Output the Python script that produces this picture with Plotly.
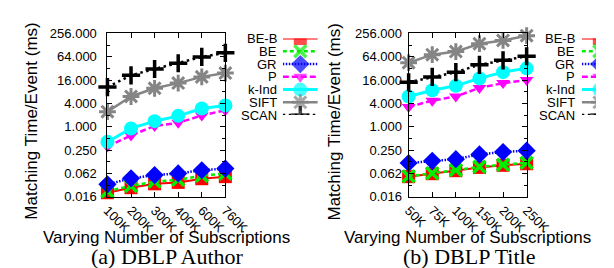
import math
import plotly.graph_objects as go

W, H = 614, 268

series_names = ["BE-B", "BE", "GR", "P", "k-Ind", "SIFT", "SCAN"]

cats_a = ["100K", "200K", "300K", "400K", "600K", "760K"]
a_beb = [0.020, 0.027, 0.034, 0.037, 0.046, 0.052]
a_be = [0.022, 0.030, 0.039, 0.043, 0.055, 0.063]
a_gr = [0.033, 0.047, 0.057, 0.063, 0.076, 0.084]
a_p = [0.31, 0.60, 1.05, 1.27, 1.96, 2.69]
a_kind = [0.41, 0.91, 1.40, 1.92, 2.96, 3.57]
a_sift = [2.46, 6.06, 9.85, 13.4, 19.4, 24.3]
a_scan = [10.6, 21.3, 31.0, 43.6, 63.5, 81.0]

cats_b = ["50K", "75K", "100K", "150K", "200K", "250K"]
b_beb = [0.052, 0.062, 0.074, 0.090, 0.102, 0.112]
b_be = [0.053, 0.064, 0.077, 0.093, 0.106, 0.118]
b_gr = [0.117, 0.133, 0.147, 0.195, 0.225, 0.243]
b_p = [3.26, 4.73, 6.06, 10.1, 13.4, 16.1]
b_kind = [6.06, 8.8, 11.5, 17.7, 25.7, 32.2]
b_sift = [45.0, 72.5, 87.0, 139.0, 169.0, 224.0]
b_scan = [14.1, 19.4, 25.7, 39.7, 51.7, 66.0]

y_tickvals = [0.015625, 0.0625, 0.25, 1, 4, 16, 64, 256]
y_ticktext = ["0.016", "0.062", "0.250", "1.000", "4.000", "16.000", "64.000", "256.000"]
y_minorvals = [0.03125, 0.125, 0.5, 2, 8, 32, 128]

titles_x = "Varying Number of Subscriptions"
title_y = "Matching Time/Event (ms)"
captions = ["(a) DBLP Author", "(b) DBLP Title"]

styles = {
    "BE-B": dict(color="#ff0000", dash="solid", width=2, symbol="square", size=13, mlw=0),
    "BE": dict(color="#00ee00", dash="4px,3px", width=2.5, symbol="x-thin-open", size=12, mlw=3.5),
    "GR": dict(color="#0000ff", dash="1.5px,1.5px", width=2.5, symbol="diamond", size=14, mlw=0),
    "P": dict(color="#ff00ff", dash="6px,3px", width=2.5, symbol="triangle-down", size=12, mlw=0),
    "k-Ind": dict(color="#00ffff", dash="solid", width=3, symbol="circle", size=14, mlw=0),
    "SIFT": dict(color="#858585", dash="solid", width=2.5, symbol="asterisk-open", size=14, mlw=3),
    "SCAN": dict(color="#000000", dash="2.5px,3.5px", width=2.5, symbol="cross-thin-open", size=13, mlw=3.5),
}

data_a = [a_beb, a_be, a_gr, a_p, a_kind, a_sift, a_scan]
data_b = [b_beb, b_be, b_gr, b_p, b_kind, b_sift, b_scan]

fig = go.Figure()

def add_series(name, cats, vals, xa, ya):
    s = styles[name]
    fig.add_trace(go.Scatter(
        x=cats, y=vals, mode="lines+markers", name=name, showlegend=False,
        xaxis=xa, yaxis=ya, cliponaxis=False,
        line=dict(color=s["color"], dash=s["dash"], width=s["width"]),
        marker=dict(symbol=s["symbol"], size=s["size"], color=s["color"],
                    line=dict(color=s["color"], width=s["mlw"])),
    ))

for name, vals in zip(series_names, data_a):
    add_series(name, cats_a, vals, "x", "y")
for name, vals in zip(series_names, data_b):
    add_series(name, cats_b, vals, "x2", "y2")

# gnuplot-style key samples (line with marker in the middle), drawn on hidden legend axes
for i, name in enumerate(series_names):
    s = styles[name]
    for xa, ya in (("x3", "y3"), ("x4", "y4")):
        fig.add_trace(go.Scatter(
            x=[0, 0.5, 1], y=[i, i, i], mode="lines+markers", showlegend=False,
            xaxis=xa, yaxis=ya, cliponaxis=True, hoverinfo="skip",
            line=dict(color=s["color"], dash=s["dash"], width=s["width"]),
            marker=dict(symbol=s["symbol"], size=[0, s["size"], 0], color=s["color"],
                        line=dict(color=s["color"], width=s["mlw"])),
        ))

font_sans = "Liberation Sans, Arial, sans-serif"
font_serif = "Liberation Serif, Times New Roman, serif"

ydom = [1 - 192.7 / H, 1 - 19.5 / H]

def xaxis_cfg(dom):
    return dict(domain=dom, type="category", range=[0, 5], showline=True, linecolor="black",
                linewidth=1, mirror="allticks", ticks="inside", ticklen=5, tickcolor="black",
                tickangle=45, tickfont=dict(family=font_sans, size=13, color="black"),
                showgrid=False, zeroline=False, fixedrange=True)

def yaxis_cfg(anchor, standoff):
    return dict(domain=ydom, anchor=anchor, type="log",
                range=[math.log10(0.015625), math.log10(256)],
                tickmode="array", tickvals=y_tickvals, ticktext=y_ticktext,
                showline=True, linecolor="black", linewidth=1, mirror="allticks",
                ticks="inside", ticklen=5, tickcolor="black",
                ticklabelstandoff=standoff,
                minor=dict(tickmode="array", tickvals=y_minorvals, ticks="inside",
                           ticklen=3, tickcolor="black"),
                tickfont=dict(family=font_sans, size=13, color="black"),
                showgrid=False, zeroline=False, fixedrange=True)

leg_ydom = [1 - 106 / H, 1 - 25 / H]

fig.update_layout(
    width=W, height=H, margin=dict(l=0, r=0, t=0, b=0),
    paper_bgcolor="white", plot_bgcolor="white", showlegend=False,
    xaxis=xaxis_cfg([97.7 / W, 222.3 / W]) | dict(anchor="y"),
    yaxis=yaxis_cfg("x", 7),
    xaxis2=xaxis_cfg([416 / W, 540.7 / W]) | dict(anchor="y2"),
    yaxis2=yaxis_cfg("x2", 3),
    xaxis3=dict(domain=[283 / W, 320 / W], range=[0, 1], visible=False, anchor="y3", fixedrange=True),
    yaxis3=dict(domain=leg_ydom, range=[6, 0], visible=False, anchor="x3", fixedrange=True),
    xaxis4=dict(domain=[599 / W, 1.0], range=[0, (614 - 599) / 37], visible=False, anchor="y4", fixedrange=True),
    yaxis4=dict(domain=leg_ydom, range=[6, 0], visible=False, anchor="x4", fixedrange=True),
)

ann = []
for i, name in enumerate(series_names):
    yy = 1 - (25 + 13.5 * i) / H
    for xr in (279 / W, 594 / W):
        ann.append(dict(x=xr, y=yy, xref="paper", yref="paper", text=name, showarrow=False,
                        xanchor="right", yanchor="middle",
                        font=dict(family=font_sans, size=13, color="black")))
for cx in (160, 478):
    ann.append(dict(x=cx / W, y=1 - 236 / H, xref="paper", yref="paper", text=titles_x,
                    showarrow=False, xanchor="center", yanchor="middle",
                    font=dict(family=font_sans, size=17, color="black")))
for cx in (18, 338):
    ann.append(dict(x=cx / W, y=1 - 113 / H, xref="paper", yref="paper", text=title_y,
                    showarrow=False, xanchor="center", yanchor="middle", textangle=-90,
                    font=dict(family=font_sans, size=17, color="black")))
for cx, cap in zip((161, 480), captions):
    ann.append(dict(x=cx / W, y=1 - 256 / H, xref="paper", yref="paper", text=cap,
                    showarrow=False, xanchor="center", yanchor="middle",
                    font=dict(family=font_serif, size=22, color="black")))
fig.update_layout(annotations=ann)

fig.write_html("out.html")
